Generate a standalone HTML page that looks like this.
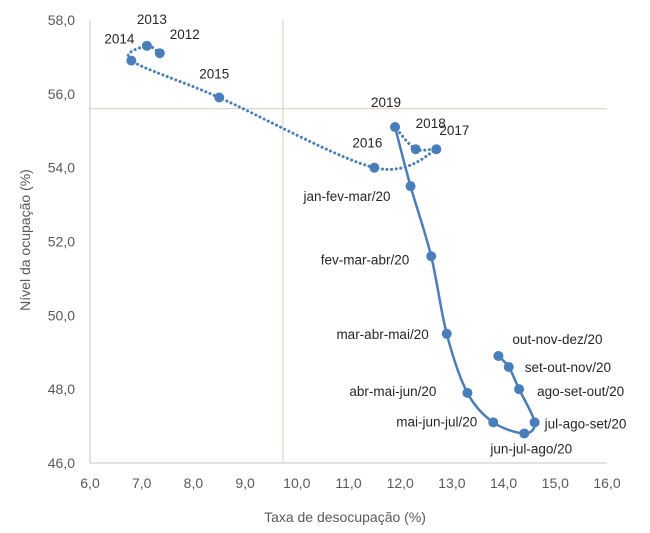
<!DOCTYPE html>
<html><head><meta charset="utf-8"><style>
html,body{margin:0;padding:0;background:#fff;}
svg{display:block;font-family:"Liberation Sans",sans-serif;}
</style></head><body>
<svg id="chart" width="650" height="533" viewBox="0 0 650 533" xmlns="http://www.w3.org/2000/svg"></svg>
<script>
const yearLabels = ["2012","2013","2014","2015","2016","2017","2018","2019"];
const yearX = [7.35,7.1,6.8,8.5,11.5,12.7,12.3,11.9];
const yearY = [57.1,57.3,56.9,55.9,54.0,54.5,54.5,55.1];
const monthLabels = ["2019","jan-fev-mar/20","fev-mar-abr/20","mar-abr-mai/20","abr-mai-jun/20","mai-jun-jul/20","jun-jul-ago/20","jul-ago-set/20","ago-set-out/20","set-out-nov/20","out-nov-dez/20"];
const monthX = [11.9,12.2,12.6,12.9,13.3,13.8,14.4,14.6,14.3,14.1,13.9];
const monthY = [55.1,53.5,51.6,49.5,47.9,47.1,46.8,47.1,48.0,48.6,48.9];
const xTicks = [6,7,8,9,10,11,12,13,14,15,16];
const yTicks = [46,48,50,52,54,56,58];
const refX = 9.73, refY = 55.6;
// label placement: [dx, dy, anchor]
const yearLabelPos = [[10,-19,"start"],[5,-27,"middle"],[-12,-22,"middle"],[-5,-24,"middle"],[-7,-25,"middle"],[18,-19,"middle"],[15,-26,"middle"],[-9,-25,"middle"]];
const monthLabelPos = [null,[-20,10,"end"],[-22,3,"end"],[-18,0,"end"],[-31,-2,"end"],[-16,-1,"end"],[7,15,"middle"],[10,1,"start"],[18,2,"start"],[16,0,"start"],[14,-17,"start"]];

const svg = document.getElementById('chart');
const NS = 'http://www.w3.org/2000/svg';
const X0=90, X1=607, Y0=463, Y1=20;
const sx = v => X0 + (v-6)/(16-6)*(X1-X0);
const sy = v => Y0 - (v-46)/(58-46)*(Y0-Y1);
function el(tag, attrs){const e=document.createElementNS(NS,tag);for(const k in attrs)e.setAttribute(k,attrs[k]);svg.appendChild(e);return e;}
function smooth(pts){
  let d=`M${pts[0][0]},${pts[0][1]}`;
  for(let i=0;i<pts.length-1;i++){
    const p0=pts[i-1]||pts[i],p1=pts[i],p2=pts[i+1],p3=pts[i+2]||p2;
    const t=0.16;
    const c1=[p1[0]+(p2[0]-p0[0])*t,p1[1]+(p2[1]-p0[1])*t];
    const c2=[p2[0]-(p3[0]-p1[0])*t,p2[1]-(p3[1]-p1[1])*t];
    d+=` C${c1[0]},${c1[1]} ${c2[0]},${c2[1]} ${p2[0]},${p2[1]}`;
  }
  return d;
}
let a=el('line',{x1:X0,y1:Y1,x2:X0,y2:Y0,stroke:'#d9d9d9','stroke-width':1.5});


a=el('line',{x1:X0,y1:Y0,x2:X1,y2:Y0,stroke:'#d9d9d9','stroke-width':1.5});


a=el('line',{x1:sx(refX),y1:Y1,x2:sx(refX),y2:Y0,stroke:'#ddd8c8','stroke-width':1.3});


a=el('line',{x1:X0,y1:sy(refY),x2:X1,y2:sy(refY),stroke:'#ddd8c8','stroke-width':1.3});


xTicks.forEach(v=>{
  const t=el('text',{x:sx(v),y:488,'font-size':14,fill:'#595959','text-anchor':'middle'});
  t.textContent=v.toFixed(1).replace('.',',');
  
  
});
yTicks.forEach(v=>{
  const t=el('text',{x:75,y:sy(v)+5,'font-size':14,fill:'#595959','text-anchor':'end'});
  t.textContent=v.toFixed(1).replace('.',',');
  
  
});
let t=el('text',{x:345,y:522,'font-size':14,fill:'#595959','text-anchor':'middle'});
t.textContent='Taxa de desocupação (%)';


t=el('text',{x:0,y:0,'font-size':14,fill:'#595959','text-anchor':'middle',transform:'translate(30,240) rotate(-90)'});
t.textContent='Nível da ocupação (%)';


const yp=yearX.map((v,i)=>[sx(v),sy(yearY[i])]);
let p=el('path',{d:smooth(yp),fill:'none',stroke:'#4a7ebb','stroke-width':3,'stroke-dasharray':'0.1,4.5','stroke-linecap':'round'});


const mp=monthX.map((v,i)=>[sx(v),sy(monthY[i])]);
p=el('path',{d:smooth(mp),fill:'none',stroke:'#4a7ebb','stroke-width':2.5});


yp.forEach((q,i)=>{
  const c=el('circle',{cx:q[0],cy:q[1],r:5,fill:'#4a7ebb'});
  
  
  const L=yearLabelPos[i];
  const tx=el('text',{x:q[0]+L[0],y:q[1]+L[1]+5,'font-size':13.5,fill:'#262626','text-anchor':L[2]});
  tx.textContent=yearLabels[i];
  
  
});
mp.forEach((q,i)=>{
  if(i===0) return;
  const c=el('circle',{cx:q[0],cy:q[1],r:5,fill:'#4a7ebb'});
  
  
  const L=monthLabelPos[i];
  const tx=el('text',{x:q[0]+L[0],y:q[1]+L[1]+5,'font-size':13.5,fill:'#262626','text-anchor':L[2]});
  tx.textContent=monthLabels[i];
  
  
});
</script>
</body></html>
